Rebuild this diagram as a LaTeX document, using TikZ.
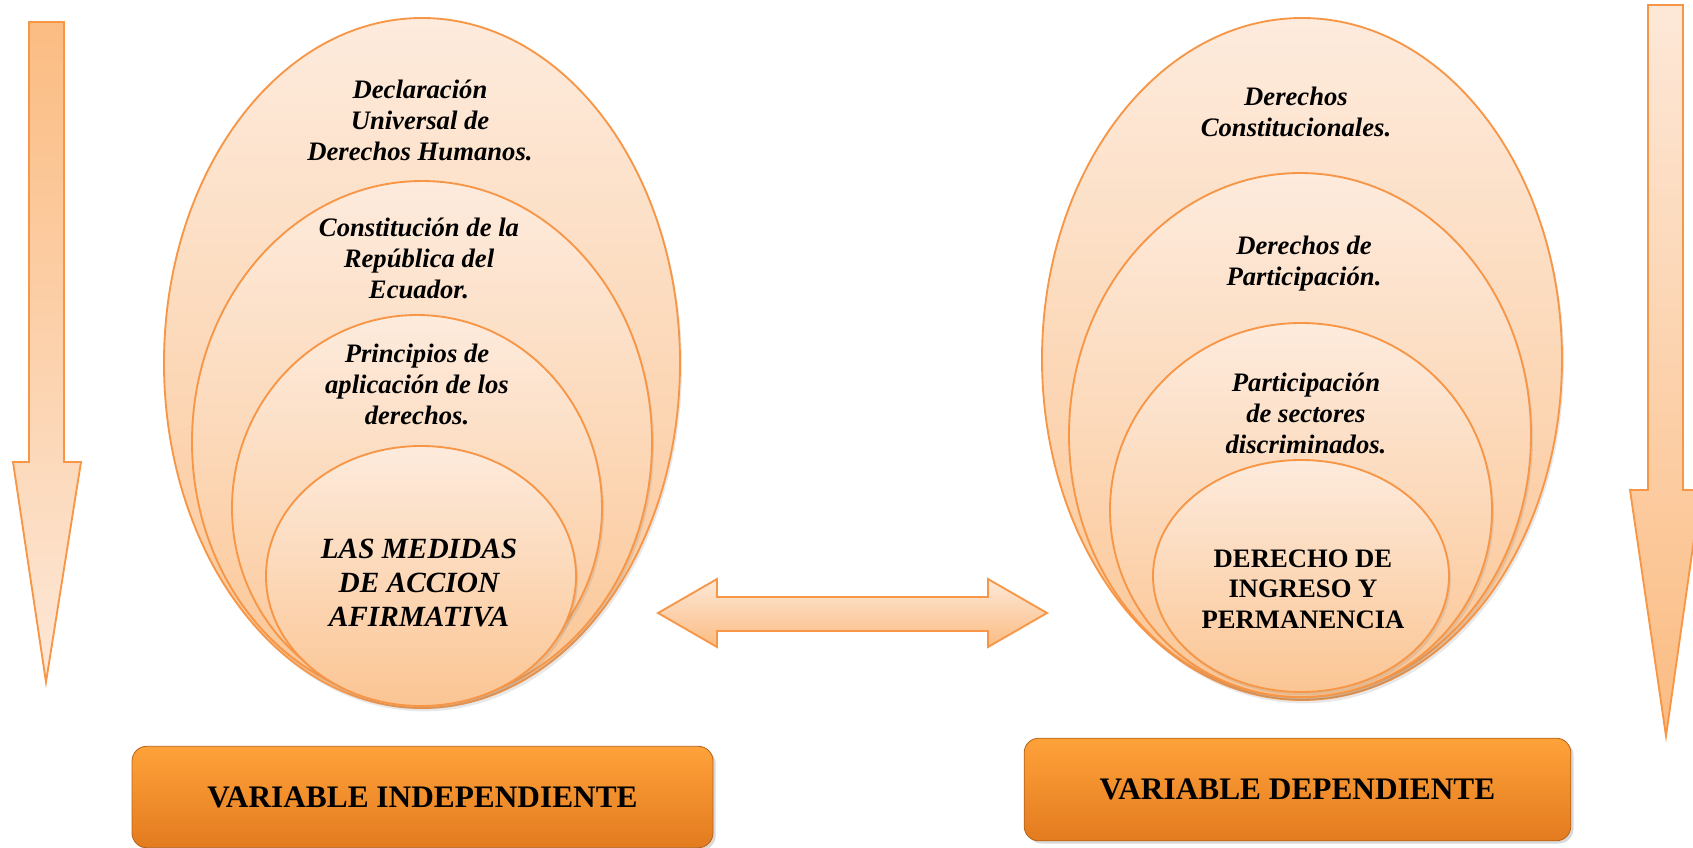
\documentclass[tikz,border=0pt]{standalone}
\usepackage{fontspec}
\setmainfont{Liberation Serif}
\usetikzlibrary{shapes.geometric,shadows}
\definecolor{ocl}{HTML}{F79646}
\definecolor{pk1}{HTML}{FDEBDD}
\definecolor{pk2}{HTML}{FBC593}
\definecolor{ar1}{HTML}{FBBC82}
\definecolor{ar2}{HTML}{FDE8D8}
\definecolor{bx1}{HTML}{FFA23A}
\definecolor{bx2}{HTML}{E37B1F}
\tikzset{
  ell/.style={ellipse, draw=ocl, line width=1.4pt, inner sep=0pt, top color=pk1, bottom color=pk2,
    drop shadow={opacity=0.18, shadow xshift=1.5pt, shadow yshift=-2.5pt}},
  txt/.style={align=center, font=\bfseries\itshape\fontsize{20}{23.3}\selectfont, inner sep=0pt},
  bigtxt/.style={align=center, font=\bfseries\itshape\fontsize{22}{25.8}\selectfont, inner sep=0pt},
  uptxt/.style={align=center, font=\bfseries\fontsize{20}{23}\selectfont, inner sep=0pt},
  varbox/.style={rectangle, rounded corners=11pt, draw=bx2!80!black, line width=0.6pt,
    top color=bx1, bottom color=bx2, inner sep=0pt,
    drop shadow={opacity=0.3, shadow xshift=2pt, shadow yshift=-2pt},
    font=\bfseries\fontsize{23.5}{27}\selectfont},
  arrowshape/.style={draw=ocl, line width=1.4pt, line join=miter}
}
\begin{document}
\begin{tikzpicture}[x=0.75pt,y=-0.75pt]
\useasboundingbox (0,0) rectangle (1693,847);

% vertical arrows
\path[arrowshape, top color=ar1, bottom color=ar2]
  (29,22) -- (64,22) -- (64,462) -- (81,462) -- (46,682) -- (13,462) -- (29,462) -- cycle;
\path[arrowshape, top color=ar2, bottom color=ar1]
  (1648,5) -- (1683,5) -- (1683,490) -- (1701,490) -- (1666,736) -- (1630,490) -- (1648,490) -- cycle;

% left nested ellipses
\node[ell, minimum width=387pt, minimum height=517.5pt] (l1) at (422,363) {};
\node[ell, minimum width=345pt, minimum height=391.5pt] (l2) at (422,442) {};
\node[ell, minimum width=277.5pt, minimum height=289.5pt] (l3) at (417,508) {};
\node[ell, minimum width=232.5pt, minimum height=195pt] (l4) at (421,576) {};

\node[txt] (t1) at (420,120) {Declaración\\Universal de\\Derechos Humanos.};
\node[txt] (t2) at (419,258) {Constitución de la\\República del\\Ecuador.};
\node[txt] (t3) at (417,384) {Principios de\\aplicación de los\\derechos.};
\node[bigtxt] (t4) at (419,583) {LAS MEDIDAS\\DE ACCION\\AFIRMATIVA};

% right nested ellipses
\node[ell, minimum width=390pt, minimum height=511.5pt] (r1) at (1302,359) {};
\node[ell, minimum width=346.5pt, minimum height=393pt] (r2) at (1300,435) {};
\node[ell, minimum width=286.5pt, minimum height=280.5pt] (r3) at (1301,510) {};
\node[ell, minimum width=222pt, minimum height=174pt] (r4) at (1301,576) {};

\node[txt] (s1) at (1296,112) {Derechos\\Constitucionales.};
\node[txt] (s2) at (1304,264) {Derechos de\\Participación.};
\node[txt] (s3) at (1306,413) {Participación\\de sectores\\discriminados.};
\node[uptxt] (s4) at (1303,589) {DERECHO DE\\INGRESO Y\\PERMANENCIA};

% double arrow
\path[arrowshape, top color=ar2, bottom color=ar1]
  (658,613) -- (717,579) -- (717,597) -- (988,597) -- (988,579) -- (1047,613)
  -- (988,647) -- (988,631) -- (717,631) -- (717,647) -- cycle;

% boxes
\node[varbox, minimum width=435.75pt, minimum height=76pt] (vi) at (422.5,797) {VARIABLE INDEPENDIENTE};
\node[varbox, minimum width=410pt, minimum height=77pt] (vd) at (1297.5,789.5) {VARIABLE DEPENDIENTE};
\end{tikzpicture}
\end{document}
